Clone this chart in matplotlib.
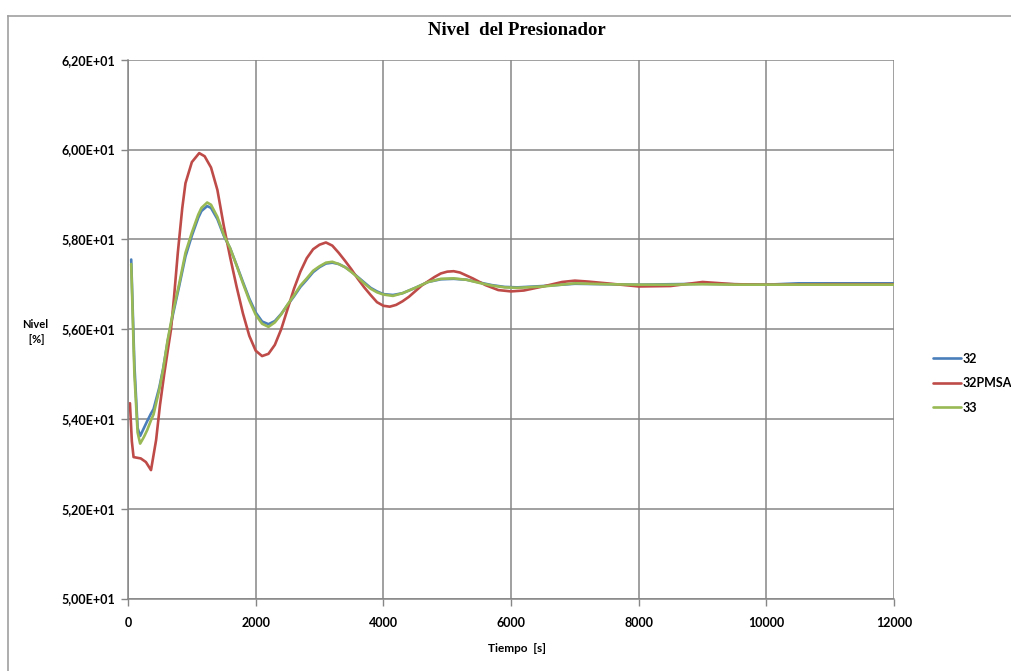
"""
Nivel del Presionador: comparison of runs 32, 32PMSA and 33.
"""

import matplotlib
matplotlib.use("Agg")
import matplotlib.pyplot as plt
from matplotlib.lines import Line2D
from matplotlib.ticker import FuncFormatter, MultipleLocator

# ─── Data ────────────────────────────────────────────────────────────────────

t_32 = [50, 100, 150, 190, 250, 300, 360, 400, 490, 550,
        620, 700, 800, 900, 1000, 1100, 1150, 1240, 1300, 1400,
        1500, 1600, 1700, 1800, 1900, 2000, 2100, 2200, 2300, 2400,
        2500, 2600, 2700, 2800, 2900, 3000, 3100, 3200, 3300, 3400,
        3500, 3600, 3700, 3800, 3900, 4000, 4150, 4300, 4500, 4700,
        4900, 5100, 5300, 5500, 5700, 5900, 6100, 6500, 7000, 7500,
        8000, 8500, 9000, 9500, 10000, 10500, 11000, 11500, 12000]
lvl_32 = [57.55, 55.20, 53.80, 53.62, 53.80, 53.95, 54.12, 54.22, 54.70, 55.12,
          55.72, 56.30, 56.95, 57.62, 58.08, 58.48, 58.63, 58.74, 58.70, 58.45,
          58.08, 57.80, 57.43, 57.05, 56.68, 56.37, 56.17, 56.11, 56.18, 56.34,
          56.54, 56.73, 56.94, 57.10, 57.27, 57.38, 57.46, 57.48, 57.45, 57.38,
          57.28, 57.16, 57.04, 56.92, 56.84, 56.78, 56.76, 56.80, 56.92, 57.05,
          57.11, 57.12, 57.10, 57.04, 56.98, 56.94, 56.93, 56.96, 57.01, 57.00,
          56.99, 57.00, 57.01, 57.00, 56.99, 57.02, 57.02, 57.02, 57.02]

t_33 = t_32
lvl_33 = [57.45, 55.00, 53.70, 53.45, 53.60, 53.75, 53.97, 54.10, 54.65, 55.10,
          55.75, 56.35, 57.00, 57.70, 58.15, 58.55, 58.70, 58.82, 58.77, 58.50,
          58.10, 57.80, 57.42, 57.02, 56.64, 56.32, 56.12, 56.05, 56.15, 56.33,
          56.55, 56.75, 56.97, 57.13, 57.30, 57.40, 57.48, 57.50, 57.45, 57.38,
          57.27, 57.15, 57.02, 56.90, 56.82, 56.77, 56.74, 56.80, 56.92, 57.05,
          57.12, 57.13, 57.10, 57.03, 56.97, 56.93, 56.92, 56.95, 57.02, 57.00,
          56.99, 56.99, 57.00, 56.99, 56.99, 56.99, 56.99, 56.99, 56.99]

t_pmsa = [30, 60, 87, 200, 280, 360, 440, 500, 567, 620,
          672, 720, 780, 850, 900, 1000, 1115, 1200, 1300, 1400,
          1500, 1600, 1700, 1800, 1900, 2000, 2100, 2200, 2300, 2400,
          2500, 2600, 2700, 2800, 2900, 3000, 3100, 3200, 3300, 3400,
          3500, 3600, 3700, 3800, 3900, 4000, 4100, 4200, 4300, 4400,
          4600, 4800, 4900, 5000, 5100, 5200, 5400, 5600, 5800, 6000,
          6200, 6500, 6800, 7000, 7200, 7500, 8000, 8500, 9000, 9500,
          10000, 11000, 12000]
lvl_pmsa = [54.35, 53.50, 53.15, 53.12, 53.04, 52.86, 53.53, 54.30, 55.00, 55.50,
            55.98, 56.70, 57.70, 58.70, 59.25, 59.72, 59.92, 59.85, 59.60, 59.10,
            58.30, 57.60, 56.95, 56.35, 55.85, 55.52, 55.40, 55.45, 55.65, 56.00,
            56.45, 56.90, 57.28, 57.58, 57.78, 57.88, 57.93, 57.86, 57.70, 57.52,
            57.33, 57.12, 56.93, 56.76, 56.60, 56.52, 56.50, 56.54, 56.62, 56.72,
            56.97, 57.16, 57.24, 57.28, 57.29, 57.26, 57.13, 56.98, 56.87, 56.84,
            56.86, 56.95, 57.05, 57.08, 57.06, 57.02, 56.95, 56.96, 57.05, 57.00,
            56.99, 57.00, 57.00]

series = [
    ("32", t_32, lvl_32, "#4A7EBB"),
    ("32PMSA", t_pmsa, lvl_pmsa, "#BE4B48"),
    ("33", t_33, lvl_33, "#98B954"),
]

GRID = "#868686"
TICK_FONT = dict(family="Lato", weight="bold", size=9)

# ─── Plot ────────────────────────────────────────────────────────────────────

fig = plt.figure(figsize=(10.12, 6.71), dpi=100)
ax = fig.add_axes([0.1265, 0.108, 0.757, 0.803])

for name, t, y, color in series:
    ax.plot(t, y, color=color, linewidth=1.9, label=name,
            solid_joinstyle="round", solid_capstyle="round")

ax.set_xlim(0, 12000)
ax.set_ylim(50, 62)
ax.xaxis.set_major_locator(MultipleLocator(2000))
ax.yaxis.set_major_locator(MultipleLocator(2))
ax.yaxis.set_major_formatter(
    FuncFormatter(lambda v, _: f"{v / 10:.2f}E+01".replace(".", ","))
)
ax.grid(True, color=GRID, linewidth=1.1)
ax.set_axisbelow(True)

for side in ("top", "right"):
    ax.spines[side].set_visible(False)
for side in ("left", "bottom"):
    ax.spines[side].set_color(GRID)
    ax.spines[side].set_linewidth(1.1)

ax.tick_params(axis="both", direction="out", length=5, width=1,
               color=GRID, pad=4)
for lab in ax.get_xticklabels() + ax.get_yticklabels():
    lab.set_fontproperties(TICK_FONT)
ax.tick_params(axis="x", pad=8)

fig.text(0.511, 0.955, "Nivel  del Presionador", ha="center", va="center",
         family="Liberation Serif", weight="bold", size=13.5)
fig.text(0.035, 0.505, "Nivel\n [%]", ha="center", va="center",
         family="Lato", weight="bold", size=8, linespacing=1.5)
fig.text(0.511, 0.034, "Tiempo  [s]", ha="center", va="center",
         family="Lato", weight="bold", size=8.5)

leg = ax.legend(loc="center left", bbox_to_anchor=(1.051, 0.40), frameon=False,
                borderpad=0, borderaxespad=0,
                handlelength=2.2, handletextpad=0.15, labelspacing=1.0,
                prop=dict(family="Lato", weight="bold", size=9))

# outer chart frame (left and top edges visible)
fig.add_artist(Line2D([0.008, 0.008], [0.0, 0.976], color="#A0A0A0",
                      linewidth=1.2, transform=fig.transFigure))
fig.add_artist(Line2D([0.008, 1.0], [0.976, 0.976], color="#A0A0A0",
                      linewidth=1.2, transform=fig.transFigure))

fig.savefig("out.png", dpi=100)
plt.close(fig)
